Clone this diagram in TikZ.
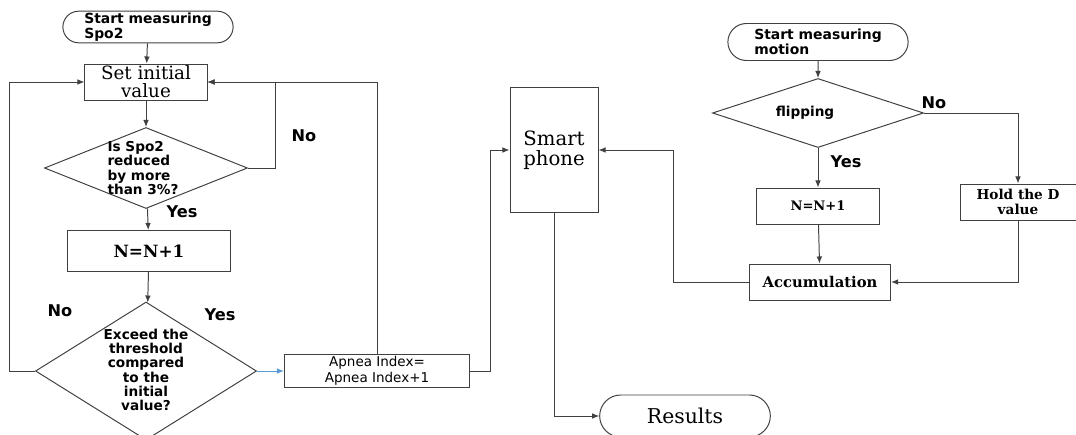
\documentclass[tikz,border=0pt]{standalone}
\usepackage{fontspec}
\setmainfont{DejaVu Serif}
\setsansfont{DejaVu Sans}
\usetikzlibrary{shapes,arrows.meta}

\begin{document}
\begin{tikzpicture}[x=0.025cm,y=-0.025cm,>={Latex[length=5pt,width=4pt]},line width=0.7pt,draw=black!75]
\tikzstyle{box}=[rectangle,draw=black!75,inner sep=1pt,align=center]
\tikzstyle{term}=[rounded rectangle,draw=black!75,inner sep=1pt,align=left,font=\sffamily\bfseries\fontsize{9.9}{10.9}\selectfont]
\tikzstyle{dec}=[diamond,draw=black!75,inner sep=0pt]
\tikzstyle{qtext}=[inner sep=0pt,font=\sffamily\bfseries\fontsize{9.7}{10.1}\selectfont]
\tikzstyle{yn}=[inner sep=0pt,font=\sffamily\bfseries\fontsize{11.5}{13}\selectfont]
\tikzstyle{blueline}=[draw={rgb,255:red,91;green,155;blue,213}]
\useasboundingbox (0,0) rectangle (1076,434);

% left chain: Spo2
\node[term,minimum width=4.325cm,minimum height=0.775cm](startS) at (148,27) {Start measuring\\Spo2};
\node[box,minimum width=3.05cm,minimum height=0.9cm,font=\fontsize{13}{13}\selectfont](init) at (146,82) {Set initial\\value};
\node[dec,minimum width=5.075cm,minimum height=2.025cm](drop) at (146,168) {};
\node[qtext,align=left](dropT) at (143,168) {Is Spo2\\reduced\\by more\\than 3\%?};
\node[box,minimum width=4.05cm,minimum height=1.025cm,font=\bfseries\fontsize{12}{12}\selectfont](incA) at (149,251) {N=N+1};
\node[dec,minimum width=5.525cm,minimum height=3.45cm](thr) at (146,371) {};
\node[qtext,align=center](thrT) at (146,370) {Exceed the\\threshold\\compared\\to the\\initial\\value?};
\node[box,minimum width=4.625cm,minimum height=0.825cm,font=\sffamily\fontsize{9.6}{11.4}\selectfont](apnea) at (377,371) {Apnea Index=\\Apnea Index+1};

% middle
\node[box,minimum width=2.2cm,minimum height=3.1cm,font=\fontsize{14}{14.5}\selectfont](phone) at (554,150) {Smart\\phone};
\node[rounded rectangle,draw=black!75,minimum width=4.5cm,minimum height=1.05cm,font=\fontsize{14.5}{15}\selectfont](res) at (685,416) {Results};

% right chain: motion
\node[term,minimum width=4.575cm,minimum height=0.925cm](startM) at (818,42) {Start measuring\\motion};
\node[dec,minimum width=5.275cm,minimum height=1.725cm](flip) at (818,113) {};
\node[qtext](flipT) at (805,113) {flipping};
\node[box,minimum width=3.075cm,minimum height=0.9cm,font=\bfseries\fontsize{9.3}{10}\selectfont](incB) at (818,206) {N=N+1};
\node[box,minimum width=3.525cm,minimum height=0.9cm,font=\bfseries\fontsize{10.5}{11}\selectfont](accu) at (820,282) {Accumulation};
\node[box,minimum width=2.9cm,minimum height=0.9cm,font=\bfseries\fontsize{9.7}{10.7}\selectfont](hold) at (1018,202) {Hold the D\\value};

% yes / no
\node[yn](no1) at (304,136) {No};
\node[yn](yes1) at (182,212) {Yes};
\node[yn](no2) at (60,311) {No};
\node[yn](yes2) at (220,315) {Yes};
\node[yn](yes3) at (846,162) {Yes};
\node[yn](no3) at (934,103) {No};

\coordinate (loopR) at (275,168);
\coordinate (loopL) at (9,371);
\coordinate (toPh) at (490,371);
\coordinate (backPh) at (673,282);

\draw[->] (startS) -- (init);
\draw[->] (init) -- (drop);
\draw[->] (drop.east) -- (loopR) |- (init.east);
\draw[->] (drop) -- (incA);
\draw[->] (incA) -- (thr);
\draw[->] (thr.west) -- (loopL) |- (init.west);
\draw[->,blueline] (thr.east) -- (apnea.west);
\draw[->] (apnea.north) |- (init.east);
\draw[->] (apnea.east) -- (toPh) |- (phone.west);
\draw[->] (phone.south) |- (res.west);

\draw[->] (startM) -- (flip);
\draw[->] (flip.east) -| (hold.north);
\draw[->] (flip) -- (incB);
\draw[->] (incB) -- (accu);
\draw[->] (hold.south) |- (accu.east);
\draw[->] (accu.west) -- (backPh) |- (phone.east);
\end{tikzpicture}
\end{document}
